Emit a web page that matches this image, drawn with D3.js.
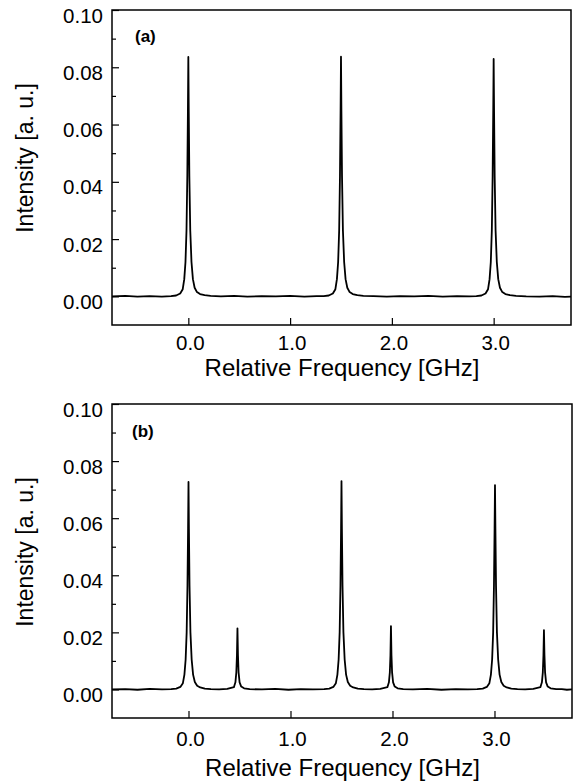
<!DOCTYPE html>
<html>
<head>
<meta charset="utf-8">
<script src="https://cdn.jsdelivr.net/npm/d3@7"></script>
<style>
  html, body { margin: 0; padding: 0; background: #fff; }
  svg { display: block; }
  text { font-family: "Liberation Sans", Arial, Helvetica, sans-serif; fill: #000; }
</style>
</head>
<body>
<script>
// ---------------- data ----------------
const panelLabels = ["(a)", "(b)"];
const xTicks = [0.0, 1.0, 2.0, 3.0];
const xTickLabels = ["0.0", "1.0", "2.0", "3.0"];
const yTicks = [0.00, 0.02, 0.04, 0.06, 0.08, 0.10];
const yTickLabels = ["0.00", "0.02", "0.04", "0.06", "0.08", "0.10"];
const yMinorTicks = [0.01, 0.03, 0.05, 0.07, 0.09];
const xTitle = "Relative Frequency [GHz]";
const yTitle = "Intensity [a. u.]";

// trace (a): [frequency GHz, intensity a.u.]
const traceA = [
  [-0.75,0.0000],[-0.62,0.0002],[-0.50,-0.0001],[-0.38,0.0001],[-0.26,-0.0001],[-0.17,0.0001],
  [-0.12,0.0003],[-0.08,0.0010],[-0.055,0.0025],[-0.04,0.0060],[-0.028,0.0120],[-0.018,0.0230],[-0.010,0.0420],[-0.004,0.0650],
  [0.000,0.0836],
  [0.004,0.0650],[0.010,0.0420],[0.019,0.0230],[0.031,0.0120],[0.045,0.0060],[0.062,0.0030],[0.085,0.0015],[0.115,0.0008],[0.16,0.0004],[0.22,0.0002],
  [0.32,0.0000],[0.45,0.0002],[0.58,-0.0001],[0.72,0.0001],[0.86,0.0000],[1.00,0.0002],[1.14,-0.0001],[1.26,0.0001],[1.33,0.0001],
  [1.38,0.0003],[1.42,0.0010],[1.445,0.0025],[1.46,0.0060],[1.472,0.0120],[1.482,0.0230],[1.490,0.0420],[1.496,0.0650],
  [1.500,0.0837],
  [1.504,0.0650],[1.510,0.0420],[1.519,0.0230],[1.531,0.0120],[1.545,0.0060],[1.562,0.0030],[1.585,0.0015],[1.615,0.0008],[1.66,0.0004],[1.72,0.0002],
  [1.82,0.0001],[1.95,-0.0001],[2.08,0.0001],[2.22,0.0000],[2.36,0.0002],[2.50,-0.0001],[2.64,0.0001],[2.76,0.0000],[2.83,0.0001],
  [2.88,0.0003],[2.92,0.0010],[2.945,0.0025],[2.96,0.0060],[2.972,0.0120],[2.982,0.0230],[2.990,0.0420],[2.996,0.0650],
  [3.000,0.0829],
  [3.004,0.0650],[3.010,0.0420],[3.019,0.0230],[3.031,0.0120],[3.045,0.0060],[3.062,0.0030],[3.085,0.0015],[3.115,0.0008],[3.16,0.0004],[3.22,0.0002],
  [3.32,0.0000],[3.45,-0.0001],[3.58,0.0001],[3.70,-0.0002],[3.76,-0.0001]
];

// trace (b): [frequency GHz, intensity a.u.]
const traceB = [
  [-0.75,0.0000],[-0.62,0.0001],[-0.50,-0.0001],[-0.38,0.0002],[-0.26,0.0000],[-0.17,0.0001],
  [-0.12,0.0003],[-0.08,0.0009],[-0.055,0.0022],[-0.04,0.0052],[-0.028,0.0105],[-0.018,0.0200],[-0.010,0.0365],[-0.004,0.0565],
  [0.000,0.0727],
  [0.004,0.0565],[0.010,0.0365],[0.019,0.0200],[0.031,0.0105],[0.045,0.0052],[0.062,0.0026],[0.085,0.0013],[0.115,0.0007],[0.16,0.0003],[0.22,0.0001],
  [0.30,0.0000],[0.38,0.0002],
  [0.445,0.0008],[0.460,0.0025],[0.469,0.0060],[0.475,0.0120],[0.480,0.0214],[0.485,0.0120],[0.491,0.0060],[0.501,0.0025],[0.517,0.0010],[0.545,0.0004],[0.60,0.0001],
  [0.72,0.0000],[0.85,0.0002],[0.98,-0.0001],[1.10,0.0001],[1.22,0.0000],[1.33,0.0001],
  [1.38,0.0003],[1.42,0.0009],[1.445,0.0022],[1.46,0.0052],[1.472,0.0105],[1.482,0.0200],[1.490,0.0365],[1.496,0.0565],
  [1.500,0.0730],
  [1.504,0.0565],[1.510,0.0365],[1.519,0.0200],[1.531,0.0105],[1.545,0.0052],[1.562,0.0026],[1.585,0.0013],[1.615,0.0007],[1.66,0.0003],[1.72,0.0001],
  [1.80,0.0000],[1.88,0.0002],
  [1.950,0.0008],[1.965,0.0025],[1.974,0.0060],[1.980,0.0120],[1.985,0.0222],[1.990,0.0120],[1.996,0.0060],[2.006,0.0025],[2.022,0.0010],[2.050,0.0004],[2.105,0.0001],
  [2.20,0.0000],[2.34,0.0002],[2.48,-0.0001],[2.62,0.0001],[2.74,0.0000],[2.83,0.0001],
  [2.885,0.0003],[2.925,0.0009],[2.950,0.0022],[2.965,0.0052],[2.977,0.0105],[2.987,0.0200],[2.995,0.0365],[3.001,0.0565],
  [3.005,0.0716],
  [3.009,0.0565],[3.015,0.0365],[3.024,0.0200],[3.036,0.0105],[3.050,0.0052],[3.067,0.0026],[3.090,0.0013],[3.120,0.0007],[3.165,0.0003],[3.225,0.0001],
  [3.30,0.0000],[3.38,0.0002],
  [3.450,0.0008],[3.465,0.0025],[3.474,0.0060],[3.480,0.0120],[3.485,0.0208],[3.490,0.0120],[3.496,0.0060],[3.506,0.0025],[3.522,0.0010],[3.550,0.0004],[3.605,0.0001],
  [3.66,0.0001],[3.71,-0.0001],[3.76,0.0000]
];

const xDomain = [-0.75, 3.76];
const yDomain = [-0.01, 0.10];

// ---------------- drawing ----------------
const W = 576, H = 783;
const svg = d3.select("body").append("svg").attr("width", W).attr("height", H);

const panels = [
  { label: panelLabels[0], data: traceA, left: 112, right: 571, top: 10, bottom: 325,
    labelX: 135, labelY: 42, tickY: 25, titleY: 376, yTitleY: 158 },
  { label: panelLabels[1], data: traceB, left: 112, right: 572, top: 404, bottom: 718,
    labelX: 132, labelY: 437, tickY: 28, titleY: 776, yTitleY: 552 }
];

panels.forEach((p, i) => {
  const x = d3.scaleLinear().domain(xDomain).range([p.left, p.right]);
  const y = d3.scaleLinear().domain(yDomain).range([p.bottom, p.top]);
  const g = svg.append("g");

  const clipId = "clip" + i;
  svg.append("clipPath").attr("id", clipId)
    .append("rect").attr("x", p.left).attr("y", p.top)
    .attr("width", p.right - p.left).attr("height", p.bottom - p.top);

  // trace
  const line = d3.line().x(d => x(d[0])).y(d => y(d[1]));
  g.append("path").datum(p.data)
    .attr("clip-path", `url(#${clipId})`)
    .attr("d", line)
    .attr("fill", "none").attr("stroke", "#000")
    .attr("stroke-width", 1.8).attr("stroke-linejoin", "round");

  // bottom axis (ticks inward)
  const xAxis = d3.axisBottom(x).tickValues(xTicks)
    .tickFormat((d, j) => xTickLabels[j]).tickSizeInner(-7).tickSizeOuter(0).tickPadding(0);
  const gx = g.append("g").attr("transform", `translate(0,${p.bottom})`).call(xAxis);
  gx.select(".domain").remove();
  gx.selectAll(".tick line").attr("stroke", "#000").attr("stroke-width", 1.2);
  gx.selectAll(".tick text").attr("font-size", 20.5).attr("dx", 1.5)
    .attr("y", p.tickY).attr("dy", 0)
    .style("font-family", "'Liberation Sans', Arial, sans-serif");

  // left axis (ticks inward)
  const yAxis = d3.axisLeft(y).tickValues(yTicks)
    .tickFormat((d, j) => yTickLabels[j]).tickSizeInner(-7).tickSizeOuter(0);
  const gy = g.append("g").attr("transform", `translate(${p.left},0)`).call(yAxis);
  gy.select(".domain").remove();
  gy.selectAll(".tick line").attr("stroke", "#000").attr("stroke-width", 1.2);
  gy.selectAll(".tick text").attr("font-size", 20.5)
    .attr("x", -9).attr("dy", 0).attr("y", 12)
    .attr("text-anchor", "end")
    .style("font-family", "'Liberation Sans', Arial, sans-serif");

  // minor y ticks
  const yMinor = d3.axisLeft(y).tickValues(yMinorTicks).tickFormat("").tickSizeInner(-4).tickSizeOuter(0);
  const gym = g.append("g").attr("transform", `translate(${p.left},0)`).call(yMinor);
  gym.select(".domain").remove();
  gym.selectAll(".tick line").attr("stroke", "#000").attr("stroke-width", 1.2);

  // frame
  g.append("rect").attr("x", p.left).attr("y", p.top)
    .attr("width", p.right - p.left).attr("height", p.bottom - p.top)
    .attr("fill", "none").attr("stroke", "#000").attr("stroke-width", 1.5);

  // panel label
  g.append("text").attr("x", p.labelX).attr("y", p.labelY)
    .attr("font-size", 17).attr("font-weight", "bold").text(p.label);

  // x title
  g.append("text").attr("x", (p.left + p.right) / 2 + 0.5).attr("y", p.titleY)
    .attr("text-anchor", "middle").attr("font-size", 24).text(xTitle);

  // y title
  g.append("text").attr("transform", `translate(33,${p.yTitleY}) rotate(-90)`)
    .attr("text-anchor", "middle").attr("font-size", 23).text(yTitle);
});
</script>
</body>
</html>
